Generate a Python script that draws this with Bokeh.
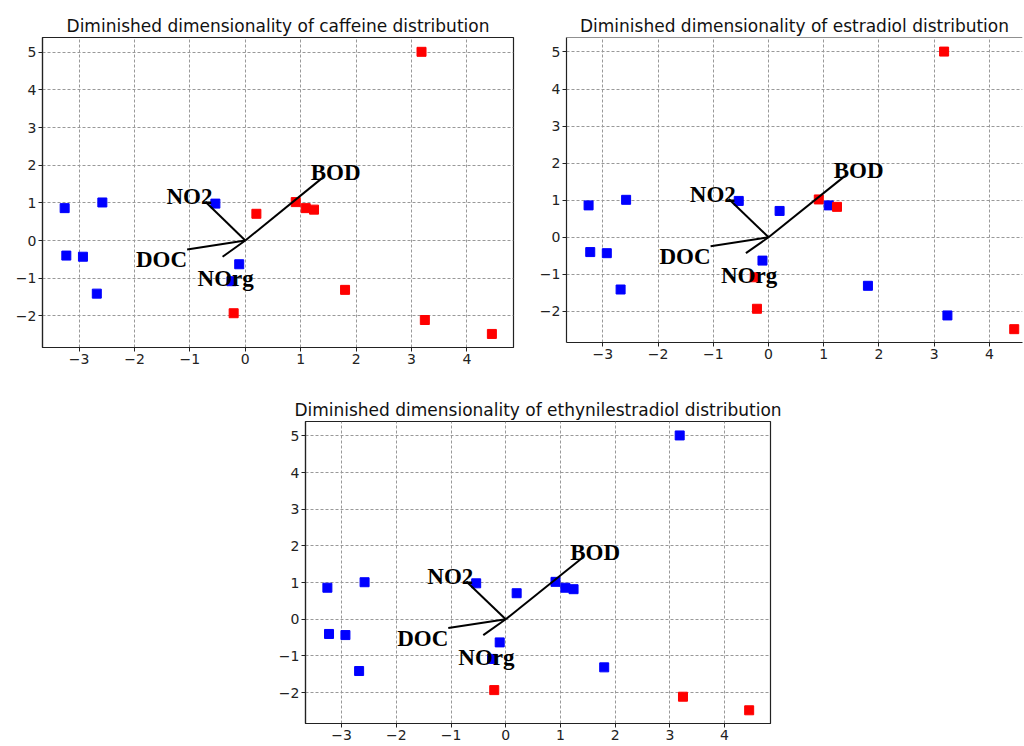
from bokeh.plotting import figure
from bokeh.layouts import column, row
from bokeh.models import Spacer, FixedTicker, Range1d, Span, ColumnDataSource
from bokeh.core.properties import value
from bokeh.embed import file_html
from bokeh.resources import INLINE

# ---- data ----
pc1 = [-3.26, -2.58, -3.23, -2.93, -2.68, -0.54, 0.20, 0.91, 1.09, 1.24,
       -0.11, -0.25, 1.80, -0.21, 3.18, 3.24, 4.45]
pc2 = [0.86, 1.01, -0.40, -0.43, -1.41, 0.98, 0.71, 1.02, 0.86, 0.82,
       -0.63, -1.08, -1.31, -1.93, 5.01, -2.11, -2.48]

caffeine_class = [0, 0, 0, 0, 0, 0, 1, 1, 1, 1, 0, 0, 1, 1, 1, 1, 1]
estradiol_class = [0, 0, 0, 0, 0, 0, 0, 1, 0, 1, 0, 1, 0, 1, 1, 0, 1]
ethinyl_class = [0, 0, 0, 0, 0, 0, 0, 0, 0, 0, 0, 0, 0, 1, 0, 1, 1]

titles = ["Diminished dimensionality of caffeine distribution",
          "Diminished dimensionality of estradiol distribution",
          "Diminished dimensionality of ethynilestradiol distribution"]

load_names = ["BOD", "NO2", "DOC", "NOrg"]
load_x = [1.38, -0.72, -1.05, -0.41]
load_y = [1.65, 1.03, -0.24, -0.43]

x_ticks = [-3, -2, -1, 0, 1, 2, 3, 4]
y_ticks = [-2, -1, 0, 1, 2, 3, 4, 5]
x_tick_labels = ["\u22123", "\u22122", "\u22121", "0", "1", "2", "3", "4"]
y_tick_labels = ["\u22122", "\u22121", "0", "1", "2", "3", "4", "5"]

# ---- styles ----
CLASS_COLORS = ["#0000ff", "#ff0000"]
LABEL_ALIGN = ["left", "left", "right", "left"]
LABEL_XOFF = [-11, -39, 0, -25]
LABEL_YOFF = [-6, -5, 10, 22]


def make_panel(title, classes, fw, fh, borders, x_end, open_right=False):
    bl, br, bt, bb = borders
    p = figure(frame_width=fw, frame_height=fh,
               x_range=Range1d(-3.66, x_end), y_range=Range1d(-2.84, 5.39),
               output_backend="svg", toolbar_location=None,
               min_border_left=bl, min_border_right=br,
               min_border_top=bt, min_border_bottom=bb,
               background_fill_color="white", border_fill_color="white")
    p.title.text = title
    p.title.align = "center"
    p.title.text_font = "DejaVu Sans"
    p.title.text_font_size = "17px"
    p.title.text_font_style = "normal"
    p.title.text_color = "#111111"
    p.title.standoff = 3

    if open_right:
        p.outline_line_color = None
        p.add_layout(Span(location=5.39, dimension="width",
                          line_color="#222222", line_width=1.2))
    else:
        p.outline_line_color = "#222222"
        p.outline_line_width = 1.2
        p.outline_line_alpha = 1.0

    for ax, ticks, labels in ((p.xaxis[0], x_ticks, x_tick_labels),
                              (p.yaxis[0], y_ticks, y_tick_labels)):
        ax.ticker = FixedTicker(ticks=ticks)
        ax.major_label_overrides = {t: l for t, l in zip(ticks, labels)}
        ax.minor_tick_line_color = None
        ax.major_tick_in = 0
        ax.major_tick_out = 4
        ax.major_tick_line_color = "#222222"
        ax.axis_line_color = "#222222"
        ax.axis_line_width = 1.2
        ax.major_label_text_font = "DejaVu Sans"
        ax.major_label_text_font_size = "14px"
        ax.major_label_text_color = "#222222"
        ax.major_label_standoff = 2

    for g in (p.xgrid[0], p.ygrid[0]):
        g.grid_line_color = "#999999"
        g.grid_line_dash = "3 2"
        g.grid_line_width = 1

    colors = [CLASS_COLORS[c] for c in classes]
    src = ColumnDataSource(dict(x=pc1, y=pc2, c=colors))
    p.scatter("x", "y", source=src, marker="square", size=9,
              fill_color="c", line_color="c")

    for lx, ly in zip(load_x, load_y):
        p.line([0, lx], [0, ly], line_color="black", line_width=2)

    lsrc = ColumnDataSource(dict(x=load_x, y=load_y, t=load_names,
                                 al=LABEL_ALIGN, xo=LABEL_XOFF, yo=LABEL_YOFF))
    p.text("x", "y", text="t", source=lsrc, text_align="al",
           x_offset="xo", y_offset="yo", text_baseline="alphabetic",
           text_font=value("Liberation Serif"), text_font_style="bold",
           text_font_size="23px", text_color="black")
    return p


p1 = make_panel(titles[0], caffeine_class, 471, 310, (42, 14, 37, 38), 4.84)
p2 = make_panel(titles[1], estradiol_class, 456, 305, (39, 2, 37, 43), 4.6,
                open_right=True)
p3 = make_panel(titles[2], ethinyl_class, 465, 302, (39, 20, 36, 22), 4.84)

layout = column(row(p1, p2), row(Spacer(width=266, height=10), p3))

open("out.html", "w").write(file_html(layout, INLINE))
